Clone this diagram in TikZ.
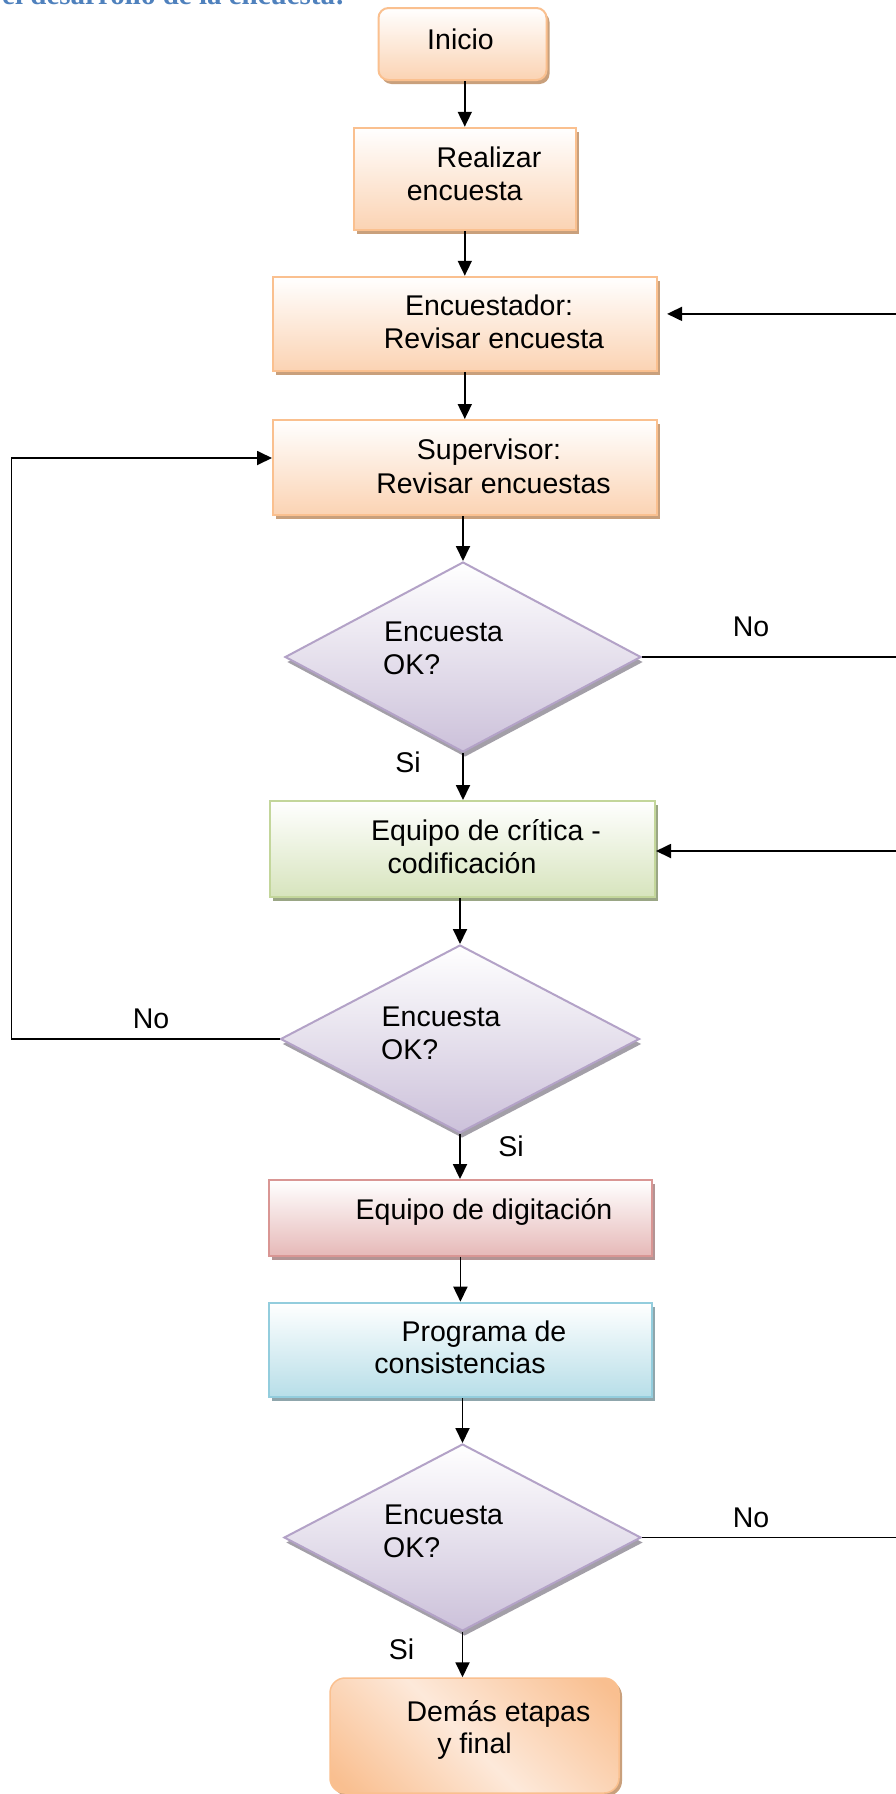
\documentclass[tikz,border=0pt]{standalone}
\usepackage{fontspec}
\setmainfont{Liberation Sans}
\newfontfamily\titlefont{Liberation Serif}
\usetikzlibrary{shapes.geometric,shadows,arrows.meta,calc}
\definecolor{orBorder}{HTML}{FAC08F}
\definecolor{orFill}{HTML}{FBD3B3}
\definecolor{orShadow}{HTML}{C9A07C}
\definecolor{grBorder}{HTML}{C3D69B}
\definecolor{grFill}{HTML}{D7E4BD}
\definecolor{grShadow}{HTML}{9AA685}
\definecolor{rdBorder}{HTML}{D99694}
\definecolor{rdFill}{HTML}{E6B9B8}
\definecolor{rdShadow}{HTML}{B39494}
\definecolor{blBorder}{HTML}{93CDDD}
\definecolor{blFill}{HTML}{B7DEE8}
\definecolor{blShadow}{HTML}{8FA6AC}
\definecolor{dmBorder}{HTML}{B3A2C7}
\definecolor{dmFill}{HTML}{CCC1DA}
\definecolor{dmShadow}{HTML}{A39FA8}
\definecolor{demDark}{HTML}{F9BF90}
\definecolor{demLight}{HTML}{FDE9DA}
\definecolor{titleBlue}{HTML}{4F81BD}
\pgfdeclarehorizontalshading{demshade}{100bp}{color(0bp)=(demDark); color(18bp)=(demDark); color(48bp)=(demLight); color(82bp)=(demDark); color(100bp)=(demDark)}
\newcommand\lblfont{\fontsize{28.5}{33.5}\selectfont}
\begin{document}
\begin{tikzpicture}[x=1pt,y=-1pt,
  rbox/.style={rectangle, draw, line width=2pt, inner sep=0pt, top color=white},
  orangebox/.style={rbox, draw=orBorder, bottom color=orFill,
     general shadow={fill=orShadow, shadow xshift=3pt, shadow yshift=-4pt}},
  greenbox/.style={rbox, draw=grBorder, bottom color=grFill,
     general shadow={fill=grShadow, shadow xshift=3pt, shadow yshift=-4pt}},
  redbox/.style={rbox, draw=rdBorder, bottom color=rdFill,
     general shadow={fill=rdShadow, shadow xshift=3pt, shadow yshift=-4pt}},
  bluebox/.style={rbox, draw=blBorder, bottom color=blFill,
     general shadow={fill=blShadow, shadow xshift=3pt, shadow yshift=-4pt}},
  decision/.style={diamond, draw=dmBorder, line width=2pt, inner sep=0pt,
     top color=white, bottom color=dmFill,
     general shadow={fill=dmShadow, shadow xshift=2pt, shadow yshift=-5pt}},
  lbl/.style={inner sep=0pt, anchor=base, font=\lblfont},
  lbll/.style={inner sep=0pt, anchor=base west, font=\lblfont},
  arr/.style={line width=1.8pt, -{Triangle[length=15pt,width=14pt]}},
  conn/.style={line width=1.8pt}]
\useasboundingbox (0,0) rectangle (895,1794);
\fill[white] (0,0) rectangle (895,1794);

% title (cut off at the top)
\node[anchor=base east, inner sep=0pt, text=titleBlue,
      font=\titlefont\bfseries\fontsize{29}{34}\selectfont] (title) at (345,4) {el desarrollo de la encuesta:};

% shapes
\node[orangebox, rounded corners=10pt, minimum width=168pt, minimum height=72pt] (ini) at (462.5,44) {};
\node[orangebox, minimum width=221.5pt, minimum height=102.3pt] (real) at (464.8,178.9) {};
\node[orangebox, minimum width=383.6pt, minimum height=94.3pt] (enc) at (464.8,323.9) {};
\node[orangebox, minimum width=383.6pt, minimum height=95pt] (sup) at (464.8,467.5) {};
\node[decision, minimum width=356pt, minimum height=190pt] (d1) at (463,657) {};
\node[greenbox, minimum width=385pt, minimum height=96pt] (grn) at (462.5,849) {};
\node[decision, minimum width=359pt, minimum height=188pt] (d2) at (460,1039) {};
\node[redbox, minimum width=382.7pt, minimum height=75.7pt] (red) at (460.4,1217.9) {};
\node[bluebox, minimum width=382.7pt, minimum height=94.6pt] (blue) at (460.4,1350) {};
\node[decision, minimum width=357pt, minimum height=187pt] (d3) at (462.5,1537.5) {};
\node[rectangle, rounded corners=15pt, draw=orBorder, line width=1.5pt, inner sep=0pt,
      shading=demshade, shading angle=45,
      general shadow={fill=orShadow, shadow xshift=3pt, shadow yshift=-3pt},
      minimum width=289pt, minimum height=115pt] (dem) at (474.5,1735.5) {};

% texts
\node[lbl] (t1) at (460.5,49.3) {Inicio};
\node[lbl] (t2a) at (489,167) {Realizar};
\node[lbl] (t2b) at (464.7,200.3) {encuesta};
\node[lbl] (t3a) at (489,315) {Encuestador:};
\node[lbl] (t3b) at (494,348.3) {Revisar encuesta};
\node[lbl] (t4a) at (489,459.3) {Supervisor:};
\node[lbl] (t4b) at (493.5,493) {Revisar encuestas};
\node[lbll] (t5a) at (384,641.7) {Encuesta};
\node[lbll] (t5b) at (383,674.5) {OK?};
\node[lbl] (t6a) at (486,840) {Equipo de crítica -};
\node[lbl] (t6b) at (462,873.7) {codificación};
\node[lbll] (t7a) at (381.5,1026) {Encuesta};
\node[lbll] (t7b) at (381,1059.5) {OK?};
\node[lbl] (t8) at (484,1219.3) {Equipo de digitación};
\node[lbl] (t9a) at (484,1341) {Programa de};
\node[lbl] (t9b) at (460,1373.7) {consistencias};
\node[lbll] (t10a) at (384,1524.6) {Encuesta};
\node[lbll] (t10b) at (383,1557.5) {OK?};
\node[lbl] (t11a) at (498.5,1721) {Demás etapas};
\node[lbl] (t11b) at (474.5,1753.3) {y final};

% branch labels
\node[lbl] (no1) at (751,636.7) {No};
\node[lbl] (si1) at (408,772.7) {Si};
\node[lbl] (no2) at (151,1028.3) {No};
\node[lbl] (si2) at (511,1156.7) {Si};
\node[lbl] (no3) at (751,1527.7) {No};
\node[lbl] (si3) at (401.5,1659.3) {Si};

% main flow
\draw[arr] (ini.south -| real) -- (real.north);
\draw[arr] (real.south) -- (real.south |- enc.north);
\draw[arr] (enc.south) -- (sup.north);
\draw[arr] (sup.south -| d1) -- (d1.north);
\draw[arr] (d1.south) -- (d1.south |- grn.north);
\draw[arr] (grn.south -| d2) -- (d2.north);
\draw[arr] (d2.south) -- (d2.south |- red.north);
\draw[arr] (red.south) -- (red.south |- blue.north);
\draw[arr] (blue.south -| d3) -- (d3.north);
\draw[arr] (d3.south) -- (d3.south |- dem.north);

% loops
\coordinate (rxa) at (920,0);
\coordinate (rxb) at (930,0);
\coordinate (lx) at (11.5,0);
\draw[arr] (d1.east) -- (d1.east -| rxa) |- ($(enc.east)+(9.5,-10)$);
\draw[arr] (d3.east) -- (d3.east -| rxb) |- ($(grn.east)+(0,2)$);
\draw[arr] (d2.west) -- (d2.west -| lx) |- ($(sup.west)+(0,-9.5)$);
\end{tikzpicture}
\end{document}
